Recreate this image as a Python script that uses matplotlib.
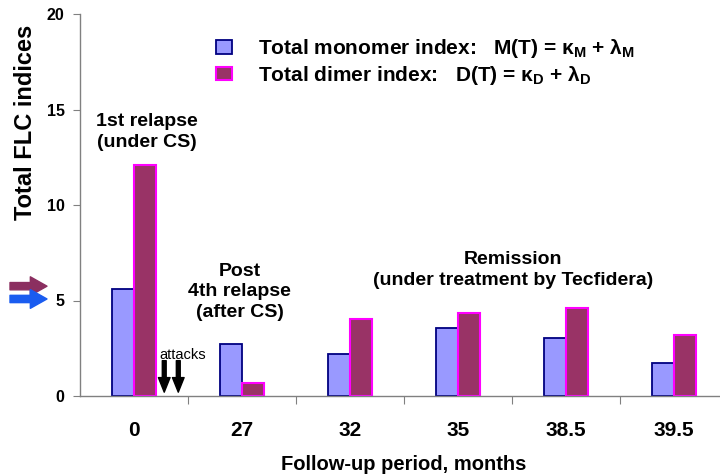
import numpy as np
import matplotlib
matplotlib.use("Agg")
import matplotlib.pyplot as plt
from matplotlib.patches import Patch

plt.rcParams['font.family'] = ['Liberation Sans', 'DejaVu Sans']
plt.rcParams['mathtext.fontset'] = 'custom'
plt.rcParams['mathtext.rm'] = 'Liberation Sans'
plt.rcParams['mathtext.bf'] = 'Liberation Sans:bold'

# data
months = ["0", "27", "32", "35", "38.5", "39.5"]
monomer = [5.6, 2.7, 2.2, 3.55, 3.05, 1.75]
dimer = [12.1, 0.7, 4.05, 4.35, 4.6, 3.2]
ref_dimer = 5.75
ref_monomer = 5.08

c_mono = "#9999FF"
c_mono_edge = "#000080"
c_dim = "#993366"
c_dim_edge = "#FF00FF"

fig = plt.figure(figsize=[7.2, 4.75], dpi=100)
W, H = 720, 475
ax = fig.add_axes([80/W, 79/H, 648/W, 382/H])

x = np.arange(len(months))
bw = 0.2
ax.bar(x-bw/2, monomer, bw, color=c_mono, edgecolor=c_mono_edge, linewidth=1.3)
ax.bar(x+bw/2, dimer, bw, color=c_dim, edgecolor=c_dim_edge, linewidth=1.5)

ax.set_xlim(-0.5, len(months)-0.5)
ax.set_ylim(0, 20)
ax.set_yticks([0, 5, 10, 15, 20])
ax.set_yticklabels(["0", "5", "10", "15", "20"], fontsize=11.5, fontweight="bold")
ax.set_xticks(x+0.5, minor=False)
ax.set_xticklabels([])
ax.set_xticks(x, minor=True)
ax.set_xticklabels(months, minor=True, fontsize=15, fontweight="bold")
ax.tick_params(axis="x", which="minor", length=0, pad=18)
ax.tick_params(axis="x", which="major", length=6, color="#808080", direction="out")
ax.tick_params(axis="y", length=5, color="#808080", pad=6)
for s in ["top", "right"]:
    ax.spines[s].set_visible(False)
for s in ["left", "bottom"]:
    ax.spines[s].set_color("#808080")
    ax.spines[s].set_linewidth(1.0)

fig.text(404/W, 1-465/H, "Follow-up period, months", fontsize=14.5, fontweight="bold",
         ha="center", va="center")
fig.text(26/W, 1-122/H, "Total FLC indices", fontsize=17, fontweight="bold",
         rotation=90, ha="center", va="center")

# legend
handles = [Patch(facecolor=c_mono, edgecolor=c_mono_edge, linewidth=1.3),
           Patch(facecolor=c_dim, edgecolor=c_dim_edge, linewidth=1.5)]
labels = [r"Total monomer index:   M(T) = κ$_\mathbf{M}$ + λ$_\mathbf{M}$",
          r"Total dimer index:   D(T) = κ$_\mathbf{D}$ + λ$_\mathbf{D}$"]
leg = fig.legend(handles, labels, loc="upper left", bbox_to_anchor=(206/W, 1-27/H),
                 frameon=False, borderpad=0, handlelength=0.75, handleheight=0.6,
                 handletextpad=1.25, labelspacing=0.18,
                 prop={"size": 15, "weight": "bold"})

# annotations
ax.text(0.12, 13.8, "1st relapse\n(under CS)", fontsize=14, fontweight="bold",
        ha="center", va="center", linespacing=1.3)
ax.text(0.98, 5.45, "Post\n4th relapse\n(after CS)", fontsize=14, fontweight="bold",
        ha="center", va="center", linespacing=1.3)
ax.text(3.51, 6.6, "Remission\n(under treatment by Tecfidera)", fontsize=14,
        fontweight="bold", ha="center", va="center", linespacing=1.3)
ax.text(0.45, 2.15, "attacks", fontsize=10.5, ha="center", va="center")
for xa in [0.28, 0.41]:
    ax.annotate("", xy=(xa, 0.2), xytext=(xa, 1.85),
                arrowprops=dict(arrowstyle="simple,head_length=0.75,head_width=0.6,tail_width=0.2",
                                mutation_scale=14, color="black", shrinkA=0, shrinkB=0))

# reference arrows on the left
for yv, col in [(ref_dimer, "#8B2F60"), (ref_monomer, "#1A5CF0")]:
    ax.annotate("", xy=(47, yv), xytext=(10, yv),
                xycoords=("figure pixels", "data"), textcoords=("figure pixels", "data"),
                annotation_clip=False,
                arrowprops=dict(arrowstyle="simple,head_length=0.8,head_width=0.9,tail_width=0.35",
                                mutation_scale=15, color=col, shrinkA=0, shrinkB=0))

fig.savefig("out.png", dpi=100)
